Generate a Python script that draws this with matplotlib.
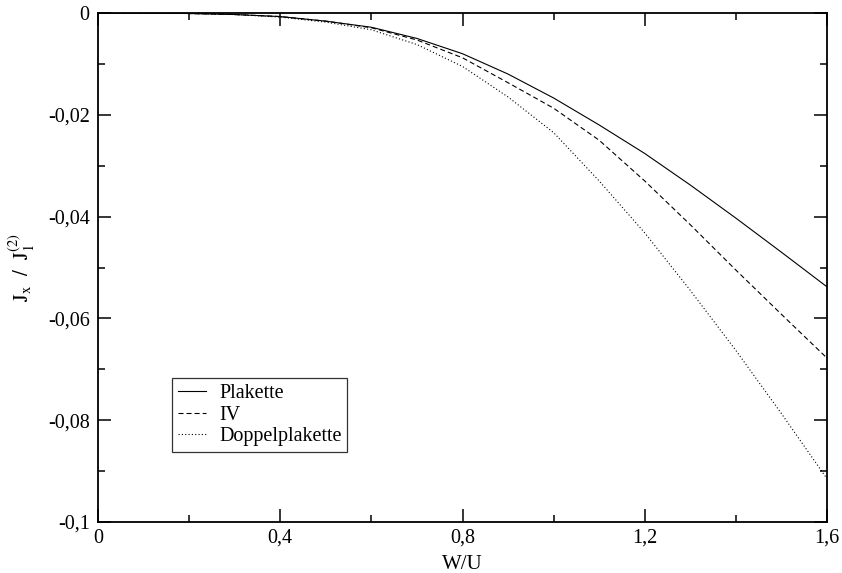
import numpy as np
import matplotlib
matplotlib.use('Agg')
import matplotlib.pyplot as plt
from matplotlib.ticker import MultipleLocator, FuncFormatter

plt.rcParams['font.family'] = ['Liberation Serif', 'DejaVu Serif']
plt.rcParams['mathtext.fontset'] = 'stix'
plt.rcParams['axes.unicode_minus'] = False
plt.rcParams['lines.scale_dashes'] = False

# W/U values and curves
w = [0.0, 0.1, 0.2, 0.3, 0.4, 0.5, 0.6, 0.7, 0.8, 0.9,
     1.0, 1.1, 1.2, 1.3, 1.4, 1.5, 1.6]
plakette = [0.0, -0.00001, -0.0001, -0.0003, -0.0007, -0.0016, -0.0028, -0.0050, -0.0080, -0.0120,
            -0.0167, -0.0220, -0.0276, -0.0338, -0.0403, -0.0470, -0.0538]
iv = [0.0, -0.00001, -0.0001, -0.0003, -0.0007, -0.0016, -0.0029, -0.0053, -0.0088, -0.0137,
      -0.0187, -0.0250, -0.0330, -0.0416, -0.0505, -0.0592, -0.0678]
doppel = [0.0, -0.00001, -0.0001, -0.0003, -0.0008, -0.0018, -0.0033, -0.0062, -0.0105, -0.0165,
          -0.0235, -0.0330, -0.0432, -0.0545, -0.0663, -0.0787, -0.0915]

fig = plt.figure(figsize=(8.42, 5.73), dpi=100)
ax = fig.add_axes([98/842, 1-522/573, 729/842, 509/573])

ax.plot(w, plakette, color='black', lw=0.8, label='Plakette')
ax.plot(w, iv, color='black', lw=0.8, ls=(0, (3.6, 2.2)), label='IV')
ax.plot(w, doppel, color='black', lw=0.8, ls=(0, (0.8, 1.6)), label='Doppelplakette')

ax.set_xlim(0, 1.6)
ax.set_ylim(-0.1, 0)

ax.xaxis.set_major_locator(MultipleLocator(0.4))
ax.xaxis.set_minor_locator(MultipleLocator(0.2))
ax.yaxis.set_major_locator(MultipleLocator(0.02))
ax.yaxis.set_minor_locator(MultipleLocator(0.01))

def komma(v, pos):
    s = '%g' % round(v, 6)
    if s == '-0':
        s = '0'
    return s.replace('.', ',')

ax.xaxis.set_major_formatter(FuncFormatter(komma))
ax.yaxis.set_major_formatter(FuncFormatter(komma))

ax.tick_params(which='both', direction='in', top=True, right=True, width=1.1)
ax.tick_params(which='major', length=9.5, labelsize=14.5)
ax.tick_params(axis='x', which='major', pad=5)
ax.tick_params(axis='y', which='major', pad=6)
ax.tick_params(which='minor', length=5)
for sp in ax.spines.values():
    sp.set_linewidth(1.3)

ax.set_xlabel('W/U', fontsize=15, labelpad=5)
ax.set_ylabel(r'$\mathrm{J_x\ \ /\ \ J_1^{(2)}}$', fontsize=15, labelpad=8)

leg = ax.legend(loc='lower left', bbox_to_anchor=(0.101, 0.138), borderaxespad=0,
                fontsize=14.5, fancybox=False, frameon=True, handlelength=1.4,
                handletextpad=0.65, labelspacing=0.1, borderpad=0.3)
leg.get_frame().set_edgecolor('black')
leg.get_frame().set_linewidth(0.9)

plt.savefig('out.png', dpi=100)
